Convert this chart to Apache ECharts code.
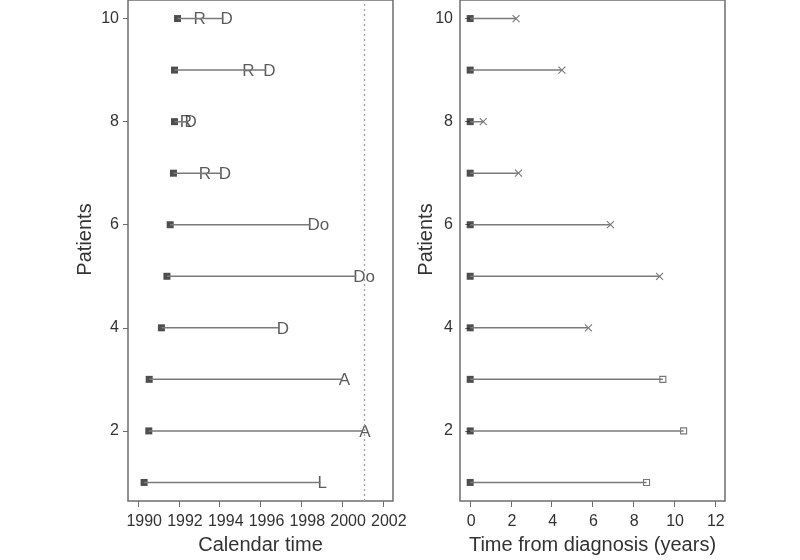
<!DOCTYPE html>
<html>
<head>
<meta charset="utf-8">
<script src="https://cdn.jsdelivr.net/npm/echarts@6/dist/echarts.min.js"></script>
<style>
  html, body { margin: 0; padding: 0; background: #fff; }
  #chart { width: 800px; height: 560px; }
</style>
</head>
<body>
<div id="chart"></div>
<script>
// patient follow-up
var patients = [1, 2, 3, 4, 5, 6, 7, 8, 9, 10];
var diagnosisDate = [1990.29, 1990.52, 1990.54, 1991.14, 1991.41, 1991.57, 1991.73, 1991.78, 1991.78, 1991.93];
var followUpYears = [8.65, 10.47, 9.45, 5.80, 9.29, 6.88, 2.37, 0.64, 4.50, 2.25];
var endCode = ['L', 'A', 'A', 'D', 'Do', 'Do', 'D', 'D', 'D', 'D'];
var relapseDate = [null, null, null, null, null, null, 1993.12, 1992.18, 1995.25, 1992.86];
var studyEnd = 2001.08;

var patientTicks = [2, 4, 6, 8, 10];
var calendarTicks = [1990, 1992, 1994, 1996, 1998, 2000, 2002];
var yearTicks = [0, 2, 4, 6, 8, 10, 12];

(function () {
  var FONT = '"Liberation Sans", Arial, sans-serif';
  var TEXT = '#333333';
  var LINE = '#7a7a7a';
  var FRAME = '#6e6e6e';

  function plain(v) { return String(v); }

  function xAxis(idx, name, min, max, ticks, shift) {
    return {
      type: 'value', gridIndex: idx, min: min, max: max,
      name: name, nameLocation: 'middle', nameGap: 34, nameMoveOverlap: false,
      nameTextStyle: { fontFamily: FONT, fontSize: 20, color: TEXT },
      axisLine: { show: false },
      axisTick: { show: true, length: 6, customValues: ticks, lineStyle: { color: FRAME } },
      axisLabel: {
        customValues: ticks, margin: 13, formatter: plain, padding: [0, 0, 0, shift],
        fontFamily: FONT, fontSize: 16, color: TEXT
      },
      splitLine: { show: false }
    };
  }

  function yAxis(idx, gap, margin) {
    return {
      type: 'value', gridIndex: idx, min: 0.64, max: 10.36,
      name: 'Patients', nameLocation: 'middle', nameGap: gap, nameMoveOverlap: false,
      nameTextStyle: { fontFamily: FONT, fontSize: 20, color: TEXT, padding: [0, 0, 0, 22] },
      axisLine: { show: false },
      axisTick: { show: true, length: 5, customValues: patientTicks, lineStyle: { color: FRAME } },
      axisLabel: { customValues: patientTicks, margin: margin, formatter: plain, fontFamily: FONT, fontSize: 16, color: TEXT },
      splitLine: { show: false }
    };
  }

  var series = [];

  // horizontal follow-up lines
  patients.forEach(function (p, i) {
    var end = diagnosisDate[i] + followUpYears[i];
    series.push({
      type: 'line', xAxisIndex: 0, yAxisIndex: 0, silent: true,
      showSymbol: false, lineStyle: { color: LINE, width: 1.5 },
      data: [[diagnosisDate[i], p], [end, p]],
      markLine: i === 0 ? {
        silent: true, symbol: 'none', label: { show: false },
        lineStyle: { type: [2, 3], color: '#a0a0a0', width: 1.3 },
        data: [{ xAxis: studyEnd }]
      } : undefined
    });
    series.push({
      type: 'line', xAxisIndex: 1, yAxisIndex: 1, silent: true,
      showSymbol: false, lineStyle: { color: LINE, width: 1.5 },
      data: [[0, p], [followUpYears[i], p]]
    });
  });

  // diagnosis squares
  series.push({
    type: 'scatter', xAxisIndex: 0, yAxisIndex: 0, silent: true,
    symbol: 'rect', symbolSize: 7, itemStyle: { color: '#222222' },
    data: patients.map(function (p, i) { return [diagnosisDate[i], p]; })
  });
  series.push({
    type: 'scatter', xAxisIndex: 1, yAxisIndex: 1, silent: true,
    symbol: 'rect', symbolSize: 7, itemStyle: { color: '#222222' },
    data: patients.map(function (p) { return [0, p]; })
  });

  // event letters on calendar panel
  var letters = [];
  patients.forEach(function (p, i) {
    if (relapseDate[i] !== null) letters.push({ name: 'R', value: [relapseDate[i], p] });
    letters.push({ name: endCode[i], value: [diagnosisDate[i] + followUpYears[i], p] });
  });
  series.push({
    type: 'scatter', xAxisIndex: 0, yAxisIndex: 0, silent: true,
    symbol: 'circle', symbolSize: 1, itemStyle: { color: 'rgba(0,0,0,0)' },
    label: {
      show: true, position: 'inside', formatter: '{b}', align: 'left',
      offset: [-3, 1], fontFamily: FONT, fontSize: 17, color: TEXT
    },
    data: letters
  });

  // end markers on time-from-diagnosis panel
  var deaths = [], censored = [];
  patients.forEach(function (p, i) {
    if (endCode[i].charAt(0) === 'D') deaths.push([followUpYears[i], p]);
    else censored.push([followUpYears[i], p]);
  });
  series.push({
    type: 'scatter', xAxisIndex: 1, yAxisIndex: 1, silent: true,
    symbol: 'path://M0,0L10,10M10,0L0,10', symbolSize: 7,
    itemStyle: { color: 'rgba(0,0,0,0)', borderColor: '#555555', borderWidth: 1.1 },
    data: deaths
  });
  series.push({
    type: 'scatter', xAxisIndex: 1, yAxisIndex: 1, silent: true,
    symbol: 'rect', symbolSize: 6,
    itemStyle: { color: '#ffffff', borderColor: '#555555', borderWidth: 1.1 },
    data: censored
  });

  var chart = echarts.init(document.getElementById('chart'), null, { renderer: 'canvas' });
  chart.setOption({
    backgroundColor: '#ffffff',
    animation: false,
    grid: [
      { left: 128, top: 0, width: 265, height: 502, show: true, borderColor: FRAME, borderWidth: 1.5, backgroundColor: 'transparent' },
      { left: 460, top: 0, width: 265, height: 502, show: true, borderColor: FRAME, borderWidth: 1.5, backgroundColor: 'transparent' }
    ],
    xAxis: [
      xAxis(0, 'Calendar time', 1989.5, 2002.5, calendarTicks, 12),
      xAxis(1, 'Time from diagnosis (years)', -0.5, 12.5, yearTicks, 2)
    ],
    yAxis: [yAxis(0, 33, 9), yAxis(1, 24, 7)],
    series: series
  });
})();
</script>
</body>
</html>
